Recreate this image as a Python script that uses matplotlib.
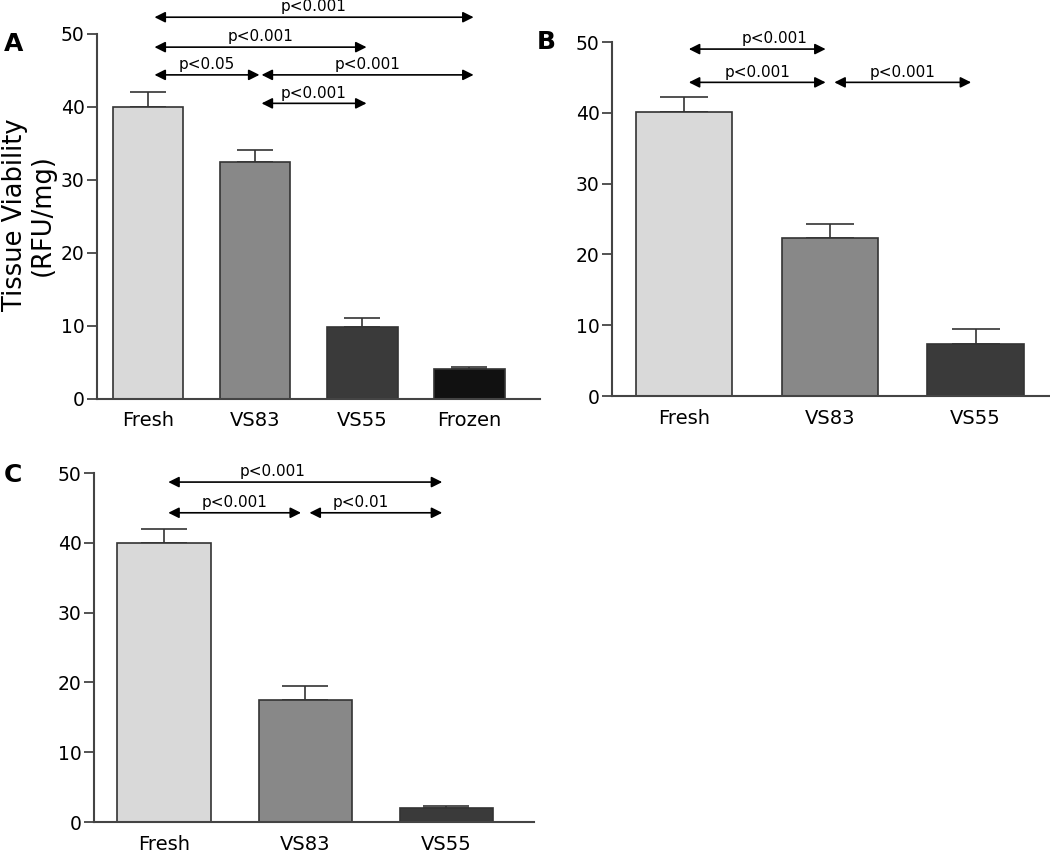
import matplotlib
matplotlib.use("Agg")
import matplotlib.pyplot as plt

# panel A
cats_a = ["Fresh", "VS83", "VS55", "Frozen"]
means_a = [40.0, 32.4, 9.9, 4.15]
errs_a = [2.0, 1.7, 1.2, 0.25]
pairs_a = [(0, 3), (0, 2), (0, 1), (1, 3), (1, 2)]
plabels_a = ["p<0.001", "p<0.001", "p<0.05", "p<0.001", "p<0.001"]
levels_a = [52.3, 48.2, 44.4, 44.4, 40.5]
shift_a = [0, 0, 0, 0, 0]

# panel B
cats_b = ["Fresh", "VS83", "VS55"]
means_b = [40.1, 22.3, 7.3]
errs_b = [2.1, 2.0, 2.2]
pairs_b = [(0, 1), (0, 1), (1, 2)]
plabels_b = ["p<0.001", "p<0.001", "p<0.001"]
levels_b = [49.0, 44.3, 44.3]
shift_b = [0.12, 0, 0]

# panel C
cats_c = ["Fresh", "VS83", "VS55"]
means_c = [40.0, 17.5, 2.05]
errs_c = [2.0, 2.0, 0.3]
pairs_c = [(0, 2), (0, 1), (1, 2)]
plabels_c = ["p<0.001", "p<0.001", "p<0.01"]
levels_c = [48.7, 44.3, 44.3]
shift_c = [-0.23, 0, -0.11]

colors = ["#d9d9d9", "#888888", "#3a3a3a", "#111111"]
W, H = 1050, 852


def panel(fig, box, xlim, cats, means, errs, pairs, plabels, levels, shifts,
          letter, letter_xy):
    l, r, t, b = box
    ax = fig.add_axes([l / W, 1 - b / H, (r - l) / W, (b - t) / H])
    x = list(range(len(cats)))
    ax.set_xlim(*xlim)
    ax.set_ylim(0, 50)
    bar_w = 0.66
    px_per_unit = (r - l) / (xlim[1] - xlim[0])
    cap = bar_w / 2 * px_per_unit * 0.5 * 0.72
    ax.bar(x, means, width=bar_w, color=colors[:len(cats)], edgecolor="#333333",
           linewidth=1.2, zorder=2)
    ax.errorbar(x, means, yerr=[[0] * len(errs), errs], fmt="none", ecolor="#333333",
                elinewidth=1.2, capsize=cap, capthick=1.2, zorder=1)
    ax.set_xticks(x)
    ax.set_xticklabels(cats, fontsize=14)
    ax.tick_params(axis="x", length=0, pad=9)
    ax.set_yticks([0, 10, 20, 30, 40, 50])
    ax.tick_params(axis="y", labelsize=13.5, length=7, width=1.3, color="#444444", pad=2)
    for s in ["top", "right"]:
        ax.spines[s].set_visible(False)
    for s in ["left", "bottom"]:
        ax.spines[s].set_color("#444444")
        ax.spines[s].set_linewidth(1.5)

    if len(cats) == 4:
        s0, s1 = 0.06, 0.04
    else:
        s0, s1 = 0.03, -0.03
    for (i, j), lab, lev, sh in zip(pairs, plabels, levels, shifts):
        x0, x1 = x[i] + s0, x[j] + s1
        ax.annotate("", xy=(x1, lev), xytext=(x0, lev), annotation_clip=False,
                    arrowprops=dict(arrowstyle="<|-|>", color="black", lw=1.2,
                                    mutation_scale=16, shrinkA=0, shrinkB=0))
        ax.annotate(lab, xy=((x0 + x1) / 2 + sh, lev), xytext=(0, 2),
                    textcoords="offset points", ha="center", va="bottom",
                    fontsize=11, annotation_clip=False)

    fig.text(letter_xy[0] / W, 1 - letter_xy[1] / H, letter, fontsize=18,
             fontweight="bold", ha="left", va="center")
    return ax


fig = plt.figure(figsize=(10.5, 8.52), dpi=100)

panel(fig, (97, 540, 34, 399), (-0.477, 3.66), cats_a, means_a, errs_a,
      pairs_a, plabels_a, levels_a, shift_a, "A", (4, 44))
panel(fig, (612, 1049, 42, 396), (-0.498, 2.505), cats_b, means_b, errs_b,
      pairs_b, plabels_b, levels_b, shift_b, "B", (537, 42))
panel(fig, (94, 534, 473, 822), (-0.496, 2.62), cats_c, means_c, errs_c,
      pairs_c, plabels_c, levels_c, shift_c, "C", (4, 475))

fig.text(29 / W, 1 - 215 / H, "Tissue Viability\n(RFU/mg)", fontsize=18.5,
         rotation=90, ha="center", va="center", linespacing=1.05)

fig.savefig("out.png", dpi=100)
